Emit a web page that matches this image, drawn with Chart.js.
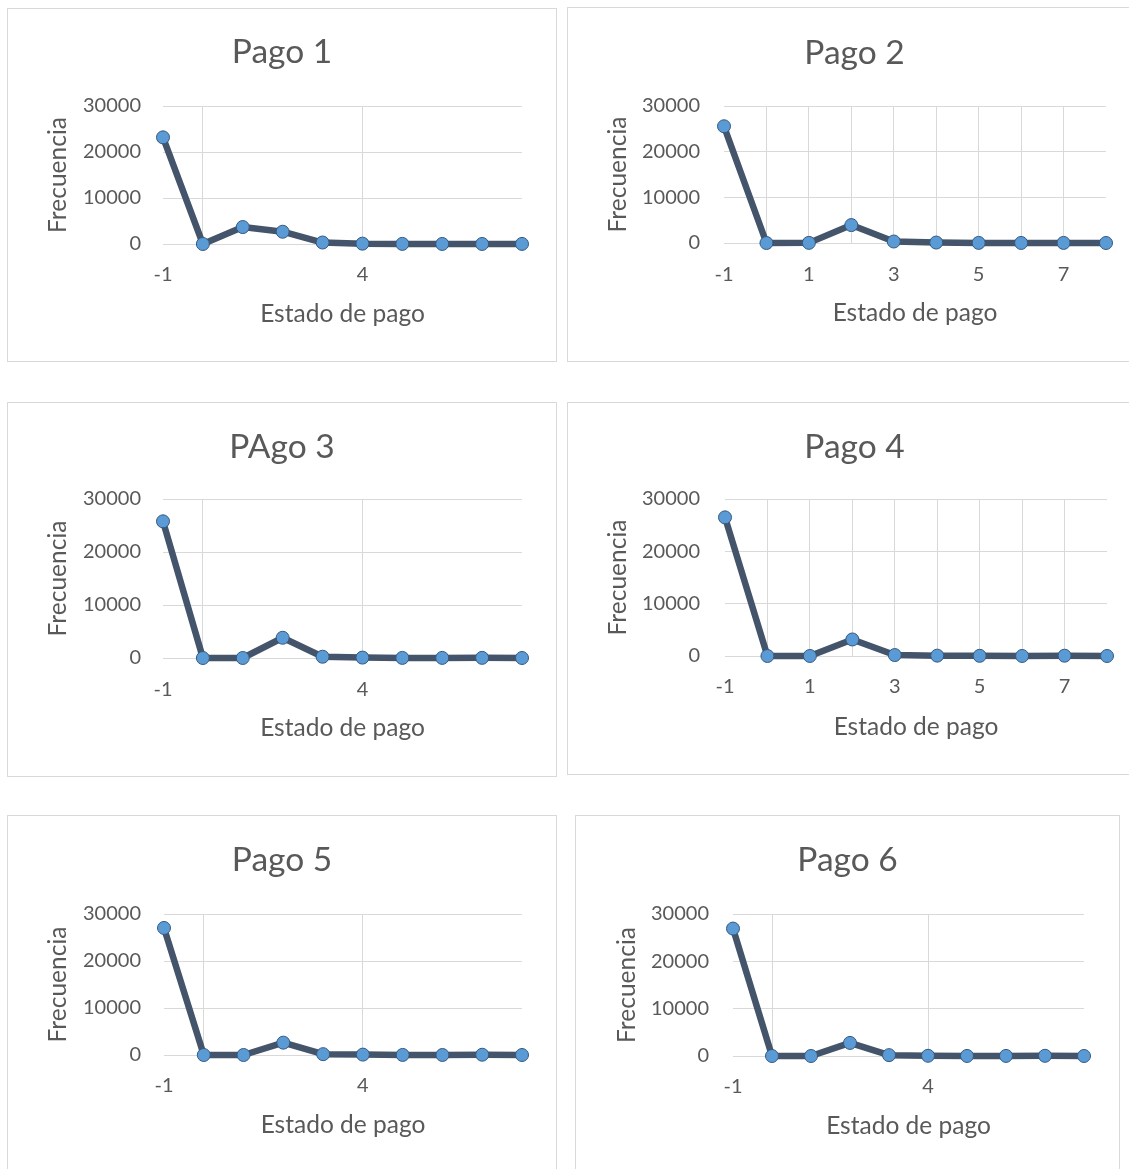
<!DOCTYPE html>
<html lang="es">
<head>
<meta charset="utf-8">
<title>Frecuencia por estado de pago</title>
<script src="https://cdn.jsdelivr.net/npm/chart.js@4"></script>
<style>
  html, body { margin: 0; padding: 0; background: #ffffff; overflow: hidden; width: 1129px; height: 1169px; }
  .panel { position: absolute; }
  .panel canvas { position: absolute; left: 0; top: 0; }
  .marco { position: absolute; left: 0; top: 0; right: 0; bottom: 0; border: 1px solid #d9d9d9; box-sizing: border-box; pointer-events: none; }
</style>
</head>
<body>
<script>
// Categorías del eje X (estado de pago)
const estados = ['-1', '0', '1', '2', '3', '4', '5', '6', '7', '8'];

// Frecuencias por estado de pago, una serie por mes
const pago1 = [23182, 0, 3688, 2667, 322, 76, 26, 11, 9, 19];
const pago2 = [25562, 0, 28, 3927, 326, 99, 25, 12, 20, 1];
const pago3 = [25787, 0, 4, 3819, 240, 76, 21, 23, 27, 3];
const pago4 = [26490, 0, 2, 3159, 180, 69, 35, 5, 58, 2];
const pago5 = [27032, 0, 0, 2626, 178, 84, 17, 4, 58, 1];
const pago6 = [26921, 0, 0, 2766, 184, 49, 13, 19, 46, 2];

const titulos = ['Pago 1', 'Pago 2', 'PAgo 3', 'Pago 4', 'Pago 5', 'Pago 6'];
const tituloEjeX = 'Estado de pago';
const tituloEjeY = 'Frecuencia';

// Etiquetas visibles del eje X y categorías con línea de cuadrícula vertical
const etiquetasCada5 = ['-1', '4'];
const etiquetasImpares = ['-1', '1', '3', '5', '7'];
const lineasCada4 = ['0', '4'];
const lineasTodas = ['0', '1', '2', '3', '4', '5', '6', '7'];

// Eje Y
const yMin = 0, yMax = 30000, yPaso = 10000;

// Estilo
const colorTexto = '#595959';
const colorRejilla = '#d9d9d9';
const colorLinea = '#44546A';
const colorMarcador = '#5B9BD5';
const bordeMarcador = '#36587F';
const fuente = 'Lato, Carlito, Calibri, "Open Sans", sans-serif';
const tamTitulo = 33.5, tamTicks = 20, tamEje = 24.5, interlineado = 1.2;

// Posición de cada panel en la página (px): caja, área de trazado y referencias de texto
const paneles = [
  { datos: pago1, titulo: titulos[0], etiquetas: etiquetasCada5, lineas: lineasCada4,
    caja: [7, 8, 550, 354], area: [163, 522, 106, 244], tituloY: 52, ejeYx: 58, ticksYder: 141, ticksXy: 275, ejeXy: 314 },
  { datos: pago2, titulo: titulos[1], etiquetas: etiquetasImpares, lineas: lineasTodas,
    caja: [567, 7, 575, 355], area: [724, 1106, 106, 243], tituloY: 53, ejeYx: 618, ticksYder: 700, ticksXy: 275, ejeXy: 313 },
  { datos: pago3, titulo: titulos[2], etiquetas: etiquetasCada5, lineas: lineasCada4,
    caja: [7, 402, 550, 375], area: [163, 522, 499, 658], tituloY: 447, ejeYx: 58, ticksYder: 141, ticksXy: 690, ejeXy: 728 },
  { datos: pago4, titulo: titulos[3], etiquetas: etiquetasImpares, lineas: lineasTodas,
    caja: [567, 402, 575, 373], area: [725, 1107, 499, 656], tituloY: 447, ejeYx: 618, ticksYder: 700, ticksXy: 687, ejeXy: 727 },
  { datos: pago5, titulo: titulos[4], etiquetas: etiquetasCada5, lineas: lineasCada4,
    caja: [7, 815, 550, 360], area: [164, 522, 914, 1055], tituloY: 860, ejeYx: 58, ticksYder: 141, ticksXy: 1086, ejeXy: 1125 },
  { datos: pago6, titulo: titulos[5], etiquetas: etiquetasCada5, lineas: lineasCada4,
    caja: [575, 815, 545, 360], area: [733, 1084, 914, 1056], tituloY: 860, ejeYx: 627, ticksYder: 709, ticksXy: 1087, ejeXy: 1126 }
];

function crearPanel(p) {
  const [cx, cy, W, H] = p.caja;
  const l = p.area[0] - cx, r = p.area[1] - cx, t = p.area[2] - cy, b = p.area[3] - cy;
  const lado = W - r;                       // margen simétrico para centrar el título
  const lhTit = tamTitulo * interlineado;
  const lhTick = tamTicks * interlineado;
  const lhEje = tamEje * interlineado;

  const titPadTop = (p.tituloY - cy) - lhTit / 2;
  const titPadBottom = t - titPadTop - lhTit;
  const anchoY = l - lado;
  const padTicksY = l - (p.ticksYder - cx);
  const padTituloY = (p.ejeYx - cx) - lado - lhEje / 2;
  const altoX = H - b;
  const padTicksX = (p.ticksXy - cy) - b - lhTick / 2;
  const padTituloX = H - (p.ejeXy - cy) - lhEje / 2;

  const cont = document.createElement('div');
  cont.className = 'panel';
  cont.style.left = cx + 'px';
  cont.style.top = cy + 'px';
  cont.style.width = W + 'px';
  cont.style.height = H + 'px';
  const canvas = document.createElement('canvas');
  canvas.width = W;
  canvas.height = H;
  canvas.style.width = W + 'px';
  canvas.style.height = H + 'px';
  const marco = document.createElement('div');
  marco.className = 'marco';
  cont.appendChild(canvas);
  cont.appendChild(marco);
  document.body.appendChild(cont);

  new Chart(canvas, {
    type: 'line',
    data: {
      labels: estados,
      datasets: [{
        data: p.datos,
        borderColor: colorLinea,
        borderWidth: 6.5,
        borderJoinStyle: 'round',
        borderCapStyle: 'round',
        tension: 0,
        pointRadius: 6.5,
        pointBorderWidth: 1,
        pointBackgroundColor: colorMarcador,
        pointBorderColor: bordeMarcador,
        clip: false
      }]
    },
    options: {
      responsive: false,
      animation: false,
      devicePixelRatio: 1,
      layout: { padding: { left: lado, right: lado, top: 0, bottom: 0 } },
      plugins: {
        legend: { display: false },
        tooltip: { enabled: false },
        title: {
          display: true,
          text: p.titulo,
          color: colorTexto,
          font: { family: fuente, size: tamTitulo, weight: 'normal', lineHeight: interlineado },
          padding: { top: titPadTop, bottom: titPadBottom }
        }
      },
      scales: {
        x: {
          type: 'category',
          offset: false,
          afterFit: (s) => { s.height = altoX; },
          border: { display: false },
          grid: {
            drawTicks: false,
            lineWidth: 1,
            color: (ctx) => p.lineas.includes(estados[ctx.index]) ? colorRejilla : 'rgba(0,0,0,0)'
          },
          ticks: {
            autoSkip: false,
            maxRotation: 0,
            minRotation: 0,
            padding: padTicksX,
            color: colorTexto,
            font: { family: fuente, size: tamTicks, lineHeight: interlineado },
            callback: function (v) {
              const lab = this.getLabelForValue(v);
              return p.etiquetas.includes(lab) ? lab : '';
            }
          },
          title: {
            display: true,
            text: tituloEjeX,
            color: colorTexto,
            font: { family: fuente, size: tamEje, lineHeight: interlineado },
            padding: { top: 0, bottom: padTituloX }
          }
        },
        y: {
          min: yMin,
          max: yMax,
          afterFit: (s) => { s.width = anchoY; },
          border: { display: false },
          grid: { drawTicks: false, color: colorRejilla, lineWidth: 1 },
          ticks: {
            stepSize: yPaso,
            padding: padTicksY,
            color: colorTexto,
            font: { family: fuente, size: tamTicks, lineHeight: interlineado },
            callback: (v) => String(v)
          },
          title: {
            display: true,
            text: tituloEjeY,
            color: colorTexto,
            font: { family: fuente, size: tamEje, lineHeight: interlineado },
            padding: { top: padTituloY, bottom: 0 }
          }
        }
      }
    }
  });
}

paneles.forEach(crearPanel);
</script>
</body>
</html>
